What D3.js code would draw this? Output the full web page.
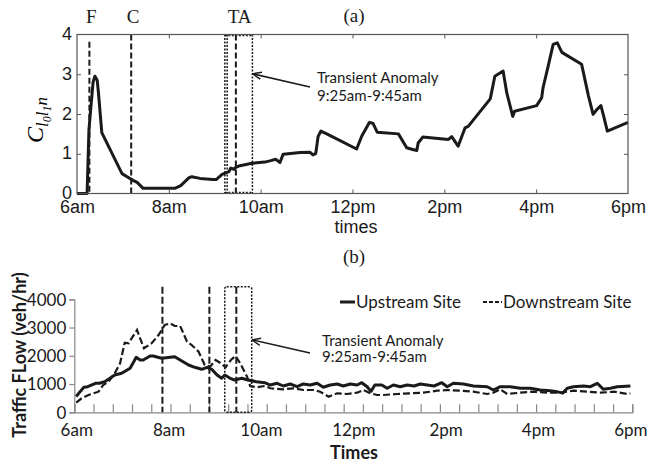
<!DOCTYPE html>
<html>
<head>
<meta charset="utf-8">
<script src="https://cdn.jsdelivr.net/npm/d3@7"></script>
<style>
  html,body{margin:0;padding:0;background:#fff;}
  svg{display:block;}
</style>
</head>
<body>
<svg id="chart" width="649" height="465"></svg>
<script>
// ---------------- DATA ----------------
// Panel (a): index value vs time (hours of day)
const topHours = [6.0,6.22,6.26,6.35,6.39,6.44,6.47,6.54,6.98,7.09,7.22,7.31,7.44,8.13,8.26,8.35,8.44,8.5,8.68,8.96,9.03,9.16,9.24,9.31,9.35,9.42,9.46,9.55,9.81,10.09,10.2,10.33,10.42,10.49,10.86,11.07,11.14,11.2,11.25,11.31,11.44,12.09,12.2,12.37,12.45,12.54,13.0,13.18,13.27,13.4,13.43,13.53,14.09,14.16,14.3,14.45,14.52,15.0,15.1,15.28,15.36,15.49,15.53,16.01,16.12,16.15,16.26,16.37,16.46,16.56,16.99,17.14,17.24,17.32,17.41,17.46,17.55,18.0];
const topVals  = [0,0,1.6,2.8,2.95,2.85,2.5,1.53,0.5,0.42,0.33,0.28,0.13,0.13,0.2,0.3,0.4,0.42,0.38,0.35,0.35,0.48,0.52,0.55,0.64,0.61,0.66,0.7,0.76,0.79,0.82,0.86,0.78,0.99,1.03,1.04,0.97,1.01,1.43,1.57,1.5,1.12,1.44,1.79,1.76,1.54,1.5,1.15,1.12,1.08,1.27,1.42,1.36,1.43,1.19,1.65,1.69,2.38,2.95,3.08,2.53,1.94,2.07,2.21,2.41,2.66,3.2,3.75,3.79,3.55,3.25,2.45,1.99,2.11,2.21,1.99,1.57,1.79];
const topXTicks  = [6,8,10,12,14,16,18];
const topXLabels = ["6am","8am","10am","12pm","2pm","4pm","6pm"];
const topYTicks  = [0,1,2,3,4];
const topMarkers = [{h:6.27,label:"F",top:3.82},{h:7.18,label:"C",top:4}];
const topTABox   = [9.22,9.82];
const topTALine  = 9.46;

// Panel (b): traffic flow vs minutes after 6:00am
const upMin  = [0,5,10,15,25,30,37,50,59,70,78,83,87,96,100,111,128,135,146,154,163,170,176,183,189,193,200,206,215,223,234,245,252,261,269,278,287,295,304,313,321,330,339,347,356,365,371,378,383,388,397,404,412,421,430,439,447,456,465,475,482,490,503,516,534,542,551,564,577,590,603,616,623,632,638,646,659,668,677,685,694,703,720];
const upVals = [560,730,885,906,1027,1027,1083,1320,1380,1558,1947,1851,1851,1993,1993,1911,1968,1851,1674,1593,1522,1593,1522,1320,1204,1320,1204,1143,1204,1143,1083,1048,966,1027,931,1002,906,1002,966,1027,885,966,1002,931,1002,966,1048,906,740,966,966,850,966,906,966,931,1002,966,931,1048,906,1027,1002,931,906,789,906,906,850,850,789,760,740,680,850,906,931,906,1027,814,850,906,931];
const downMin  = [0,7,16,29,35,42,50,57,63,68,72,79,83,88,98,107,115,122,128,135,144,150,159,167,174,181,188,194,201,207,213,222,226,235,245,252,269,282,295,308,317,328,339,352,365,373,382,391,399,417,434,451,469,482,499,516,534,542,551,560,577,594,612,629,646,664,681,699,716,720];
const downVals = [340,496,612,730,966,1083,1380,1735,2464,2443,2620,2914,2620,2266,2443,2736,3090,3150,3055,3055,2500,2382,2145,1674,1614,1851,1735,1593,1851,1993,1735,1260,931,885,931,850,814,850,789,789,729,552,672,648,694,789,672,612,612,648,672,694,765,789,765,729,648,694,814,648,694,729,694,694,765,729,694,729,648,672];
const botYTicks   = [0,1000,2000,3000,4000];
const botXTicks   = [0,120,240,360,480,600,720];
const botXLabels  = ["6am","8am","10am","12pm","2pm","4pm","6pm"];
const botMarkers  = [112,173,208];
const botTABox    = [193,228];
const legendNames = ["Upstream Site","Downstream Site"];
const annotLines  = ["Transient Anomaly","9:25am-9:45am"];

// ---------------- DRAW ----------------
const svg = d3.select("#chart");
const sans = "'Liberation Sans', Arial, sans-serif";
const serif = "'Liberation Serif', 'Times New Roman', serif";
const cal = "Lato, 'Open Sans', sans-serif";
const ink = "#1a1a1a";

svg.append("defs").append("marker")
  .attr("id","arr").attr("viewBox","0 0 10 10").attr("refX",9).attr("refY",5)
  .attr("markerWidth",9).attr("markerHeight",9).attr("orient","auto")
  .attr("markerUnits","userSpaceOnUse")
  .append("path").attr("d","M0,1 L10,5 L0,9").attr("fill","none").attr("stroke",ink).attr("stroke-width",1.6);

// ===== Panel (a) =====
const xT = d3.scaleLinear().domain([6,18]).range([77,628]);
const yT = d3.scaleLinear().domain([0,4]).range([193.5,34.5]);
const gA = svg.append("g");

const inner = [8,10,12,14,16];
gA.append("g").attr("transform",`translate(0,${yT(0)})`)
  .call(d3.axisBottom(xT).tickValues(topXTicks).tickFormat((d,i)=>topXLabels[i]).tickSize(-4).tickPadding(7))
  .call(g=>{g.select(".domain").remove();
            g.selectAll("line").attr("stroke","#555").filter(d=>!inner.includes(d)).remove();
            g.selectAll("text").attr("font-family",sans).attr("font-size",18).attr("fill",ink);});
gA.append("g").attr("transform",`translate(0,${yT(4)})`)
  .call(d3.axisTop(xT).tickValues(inner).tickSize(-4).tickFormat(""))
  .call(g=>{g.select(".domain").remove(); g.selectAll("line").attr("stroke","#555");});
gA.append("g").attr("transform",`translate(${xT(6)},0)`)
  .call(d3.axisLeft(yT).tickValues(topYTicks).tickFormat(d3.format("d")).tickSize(-4).tickPadding(5))
  .call(g=>{g.select(".domain").remove();
            g.selectAll("line").attr("stroke","#555").filter(d=>d===0||d===4).remove();
            g.selectAll("text").attr("font-family",sans).attr("font-size",18).attr("fill",ink).attr("dy","0.28em");});
gA.append("g").attr("transform",`translate(${xT(18)},0)`)
  .call(d3.axisRight(yT).tickValues([1,2,3]).tickSize(-4).tickFormat(""))
  .call(g=>{g.select(".domain").remove(); g.selectAll("line").attr("stroke","#555");});

// markers F, C
topMarkers.forEach(m=>{
  gA.append("line").attr("x1",xT(m.h)).attr("x2",xT(m.h)).attr("y1",yT(m.top)).attr("y2",yT(0))
    .attr("stroke",ink).attr("stroke-width",2).attr("stroke-dasharray","6,3");
  gA.append("text").attr("x",xT(m.h)+2).attr("y",23).attr("text-anchor","middle")
    .attr("font-family",serif).attr("font-size",19).attr("fill",ink).text(m.label);
});
// TA box
[[topTABox[0],0],[topTABox[0],0.05],[topTABox[1],0]].forEach(([h,off])=>{
  gA.append("line").attr("x1",xT(h+off)).attr("x2",xT(h+off)).attr("y1",yT(4)).attr("y2",yT(0))
    .attr("stroke",ink).attr("stroke-width",1.5).attr("stroke-dasharray","2,1.5");
});
[4,0].forEach(v=>{
  gA.append("line").attr("x1",xT(topTABox[0])).attr("x2",xT(topTABox[1])).attr("y1",yT(v)+ (v===4?1:-1)).attr("y2",yT(v)+(v===4?1:-1))
    .attr("stroke",ink).attr("stroke-width",1.5).attr("stroke-dasharray","2,1.5");
});
gA.append("line").attr("x1",xT(topTALine)).attr("x2",xT(topTALine)).attr("y1",yT(4)).attr("y2",yT(0))
  .attr("stroke",ink).attr("stroke-width",2).attr("stroke-dasharray","6,3");
gA.append("text").attr("x",xT((topTABox[0]+topTABox[1])/2)+1).attr("y",23).attr("text-anchor","middle")
  .attr("font-family",serif).attr("font-size",19).attr("fill",ink).text("TA");

// curve
const topData = topHours.map((h,i)=>[h,topVals[i]]);
gA.append("path").datum(topData)
  .attr("d",d3.line().x(d=>xT(d[0])).y(d=>yT(d[1])))
  .attr("fill","none").attr("stroke",ink).attr("stroke-width",3).attr("stroke-linejoin","round");

// box
gA.append("rect").attr("x",xT(6)).attr("y",yT(4)).attr("width",xT(18)-xT(6)).attr("height",yT(0)-yT(4))
  .attr("fill","none").attr("stroke","#555").attr("stroke-width",1.2);

// labels
svg.append("text").attr("x",354).attr("y",22).attr("text-anchor","middle")
  .attr("font-family",serif).attr("font-size",19).attr("fill",ink).text("(a)");
svg.append("text").attr("x",356).attr("y",233).attr("text-anchor","middle")
  .attr("font-family",sans).attr("font-size",18).attr("fill",ink).text("times");
const yl = svg.append("text").attr("transform","translate(43,120) rotate(-90)").attr("text-anchor","middle")
  .attr("font-family",serif).attr("font-style","italic").attr("fill","#000");
yl.append("tspan").attr("font-size",24).text("C");
yl.append("tspan").attr("font-size",17).attr("dy",5).text("l");
yl.append("tspan").attr("font-size",12).attr("dy",3).text("0");
yl.append("tspan").attr("font-size",17).attr("dy",-3).text("l");
yl.append("tspan").attr("font-size",12).attr("dy",3).text("1");
yl.append("tspan").attr("font-size",17).attr("dy",-4).text("n");

// annotation (a)
gA.append("line").attr("x1",310).attr("y1",87).attr("x2",xT(topTABox[1])+1).attr("y2",74)
  .attr("stroke",ink).attr("stroke-width",1.6).attr("marker-end","url(#arr)");
annotLines.forEach((t,i)=>gA.append("text").attr("x",317).attr("y",83+i*17.5)
  .attr("font-family",cal).attr("font-size",15).attr("fill",ink).text(t));

// ===== Panel (b) =====
const xB = d3.scaleLinear().domain([-2.5,722.5]).range([74.3,632.3]);
const yB = d3.scaleLinear().domain([0,4000]).range([412.3,299.3]);
const gB = svg.append("g");

gB.append("g").attr("transform",`translate(0,${yB(0)})`)
  .call(d3.axisBottom(xB).tickValues(d3.range(-2.5,723,25)).tickSize(-8).tickFormat(""))
  .call(g=>{g.select(".domain").attr("stroke","#888").attr("stroke-width",1.2); g.selectAll("line").attr("stroke","#888").attr("stroke-width",1.2);});
gB.append("g").attr("transform",`translate(0,${yB(0)})`)
  .call(d3.axisBottom(xB).tickValues(botXTicks).tickFormat((d,i)=>botXLabels[i]).tickSize(0).tickPadding(12))
  .call(g=>{g.select(".domain").remove();
            g.selectAll("text").attr("font-family",cal).attr("font-size",17).attr("fill",ink);});
gB.append("g").attr("transform",`translate(${xB(-2.5)},0)`)
  .call(d3.axisLeft(yB).tickValues(botYTicks).tickFormat(d3.format("d")).tickSize(5).tickPadding(3))
  .call(g=>{g.select(".domain").attr("stroke","#888").attr("stroke-width",1.2);
            g.selectAll("line").attr("stroke","#888").attr("stroke-width",1.2);
            g.selectAll("text").attr("font-family",cal).attr("font-size",17).attr("fill",ink).attr("dy","0.34em");});

// markers
botMarkers.forEach(m=>{
  gB.append("line").attr("x1",xB(m)).attr("x2",xB(m)).attr("y1",286.7).attr("y2",yB(0))
    .attr("stroke",ink).attr("stroke-width",2).attr("stroke-dasharray","7,3");
});
gB.append("rect").attr("x",xB(botTABox[0])).attr("y",286.7).attr("width",xB(botTABox[1])-xB(botTABox[0])).attr("height",yB(0)-286.7)
  .attr("rx",2).attr("fill","none").attr("stroke",ink).attr("stroke-width",1.5).attr("stroke-dasharray","2,1.5");

// series
const lineB = d3.line().x(d=>xB(d[0])).y(d=>yB(d[1]));
gB.append("path").datum(downMin.map((m,i)=>[m,downVals[i]])).attr("d",lineB)
  .attr("fill","none").attr("stroke",ink).attr("stroke-width",2.2).attr("stroke-dasharray","7,3");
gB.append("path").datum(upMin.map((m,i)=>[m,upVals[i]])).attr("d",lineB)
  .attr("fill","none").attr("stroke",ink).attr("stroke-width",3).attr("stroke-linejoin","round");

// legend
gB.append("line").attr("x1",340).attr("x2",355).attr("y1",302).attr("y2",302).attr("stroke",ink).attr("stroke-width",3);
gB.append("text").attr("x",356).attr("y",308).attr("font-family",cal).attr("font-size",17).attr("fill",ink).text(legendNames[0]);
gB.append("line").attr("x1",483).attr("x2",502).attr("y1",302).attr("y2",302).attr("stroke",ink).attr("stroke-width",2).attr("stroke-dasharray","4,2");
gB.append("text").attr("x",503).attr("y",308).attr("font-family",cal).attr("font-size",17).attr("fill",ink).text(legendNames[1]);

// annotation (b)
gB.append("line").attr("x1",310).attr("y1",353).attr("x2",xB(botTABox[1])+1).attr("y2",340)
  .attr("stroke",ink).attr("stroke-width",1.6).attr("marker-end","url(#arr)");
annotLines.forEach((t,i)=>gB.append("text").attr("x",322).attr("y",346+i*16)
  .attr("font-family",cal).attr("font-size",15).attr("fill",ink).text(t));

svg.append("text").attr("x",354).attr("y",263).attr("text-anchor","middle")
  .attr("font-family",serif).attr("font-size",19).attr("fill",ink).text("(b)");
svg.append("text").attr("x",354).attr("y",459).attr("text-anchor","middle")
  .attr("font-family",cal).attr("font-weight","bold").attr("font-size",18).attr("fill",ink).text("Times");
svg.append("text").attr("transform","translate(26,355) rotate(-90)").attr("text-anchor","middle")
  .attr("font-family",cal).attr("font-weight","bold").attr("font-size",18).attr("fill",ink).text("Traffic FLow (veh/hr)");
</script>
</body>
</html>
